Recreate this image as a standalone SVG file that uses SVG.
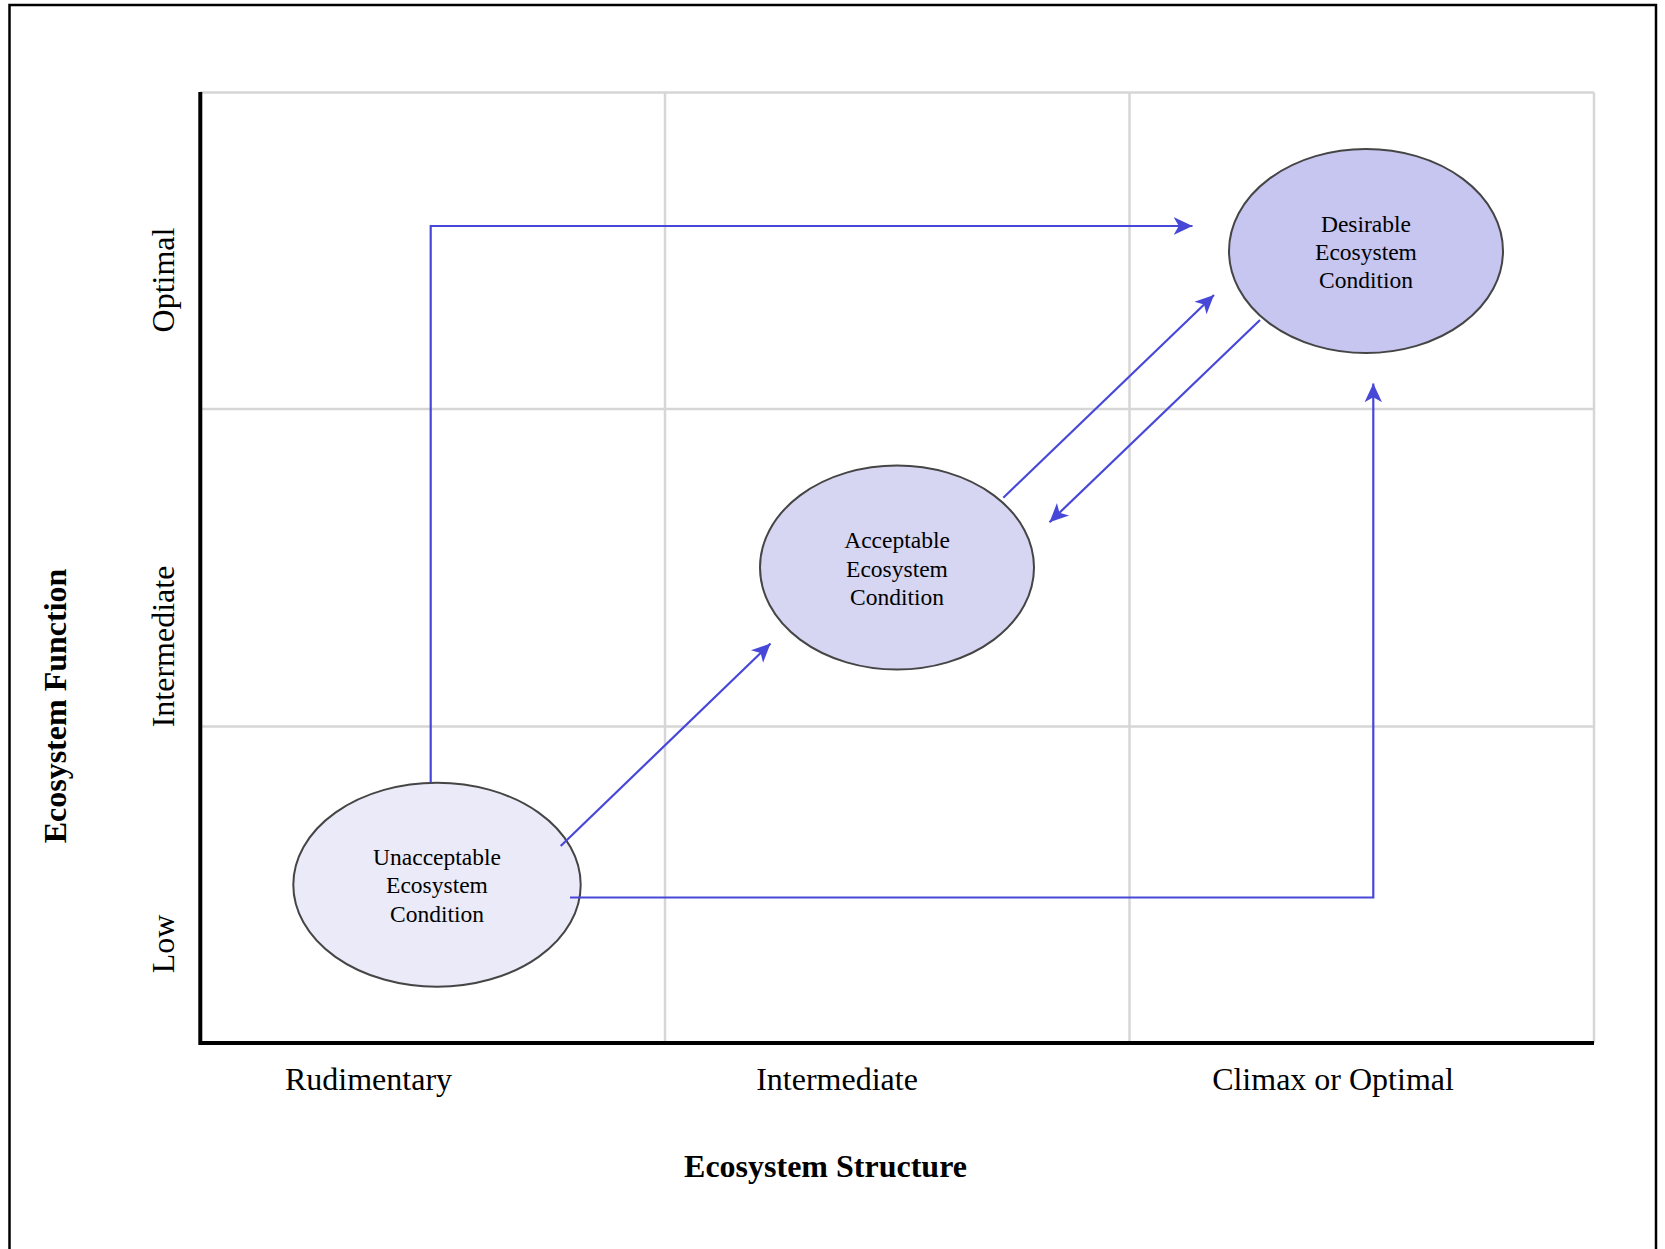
<svg xmlns="http://www.w3.org/2000/svg" width="1665" height="1249" viewBox="0 0 1665 1249">
  <style>
    .grid { stroke: #d6d6d6; stroke-width: 2.5; fill: none; }
    .axis { stroke: #000; stroke-width: 4; fill: none; }
    .node { stroke: #454545; stroke-width: 2; }
    .node-text { font-family: "Liberation Serif", "Times New Roman", serif; font-size: 23.5px; fill: #000; text-anchor: middle; }
    .tick { font-family: "Liberation Serif", "Times New Roman", serif; font-size: 32px; fill: #000; text-anchor: middle; }
    .title { font-family: "Liberation Serif", "Times New Roman", serif; font-size: 32px; font-weight: bold; fill: #000; text-anchor: middle; }
    .link { stroke: #4848d8; stroke-width: 2.2; fill: none; marker-end: url(#arrow); }
  </style>
  <defs>
    <marker id="arrow" markerUnits="userSpaceOnUse" markerWidth="20" markerHeight="20" viewBox="0 -8 16 16" refX="15" refY="0" orient="auto">
      <path d="M0,-7 L15,0 L0,7 L4,0 Z" fill="#4848d8"/>
    </marker>
  </defs>

  <rect x="0" y="0" width="1665" height="1249" fill="#fff"/>
  <!-- page frame -->
  <rect x="9.5" y="5" width="1646.5" height="1300" fill="none" stroke="#000" stroke-width="2.5"/>

  <!-- grid -->
  <g id="grid">
    <line class="grid" x1="200" y1="92.5" x2="1594" y2="92.5"/>
    <line class="grid" x1="200" y1="409" x2="1594" y2="409"/>
    <line class="grid" x1="200" y1="726.5" x2="1594" y2="726.5"/>
    <line class="grid" x1="665" y1="92.5" x2="665" y2="1043"/>
    <line class="grid" x1="1129.5" y1="92.5" x2="1129.5" y2="1043"/>
    <line class="grid" x1="1594" y1="92.5" x2="1594" y2="1043"/>
  </g>

  <!-- axes -->
  <g id="axes">
    <path class="axis" d="M200.3,92 L200.3,1043 L1594,1043"/>
  </g>

  <!-- axis tick labels -->
  <g id="x-labels">
    <text class="tick" x="368.5" y="1090">Rudimentary</text>
    <text class="tick" x="837" y="1090">Intermediate</text>
    <text class="tick" x="1333" y="1090">Climax or Optimal</text>
    <text class="title" x="825.5" y="1177">Ecosystem Structure</text>
  </g>
  <g id="y-labels">
    <text class="tick" transform="translate(174,280) rotate(-90)">Optimal</text>
    <text class="tick" transform="translate(174,646.5) rotate(-90)">Intermediate</text>
    <text class="tick" transform="translate(174,944) rotate(-90)">Low</text>
    <text class="title" transform="translate(66,706) rotate(-90)">Ecosystem Function</text>
  </g>

  <!-- nodes -->
  <g id="node-unacceptable">
    <ellipse class="node" cx="437" cy="884.7" rx="143.7" ry="102" fill="#eaeaf8"/>
    <text class="node-text" x="437" y="865">Unacceptable</text>
    <text class="node-text" x="437" y="893.3">Ecosystem</text>
    <text class="node-text" x="437" y="921.6">Condition</text>
  </g>
  <g id="node-acceptable">
    <ellipse class="node" cx="897" cy="567.5" rx="137" ry="102" fill="#d6d6f3"/>
    <text class="node-text" x="897" y="548.3">Acceptable</text>
    <text class="node-text" x="897" y="576.6">Ecosystem</text>
    <text class="node-text" x="897" y="604.9">Condition</text>
  </g>
  <g id="node-desirable">
    <ellipse class="node" cx="1366" cy="251" rx="137" ry="102" fill="#c6c6f0"/>
    <text class="node-text" x="1366" y="231.7">Desirable</text>
    <text class="node-text" x="1366" y="260">Ecosystem</text>
    <text class="node-text" x="1366" y="288.3">Condition</text>
  </g>

  <!-- connectors, drawn over the nodes -->
  <g id="connectors">
    <path class="link" d="M430.7,782.5 L430.7,226 L1192.5,226"/>
    <path class="link" d="M560.7,846 L770.5,643.5"/>
    <path class="link" d="M570,897.5 L1373.3,897.5 L1373.3,383.5"/>
    <path class="link" d="M1003.3,497.7 L1214,295"/>
    <path class="link" d="M1260,320 L1049.5,522.3"/>
  </g>
</svg>
